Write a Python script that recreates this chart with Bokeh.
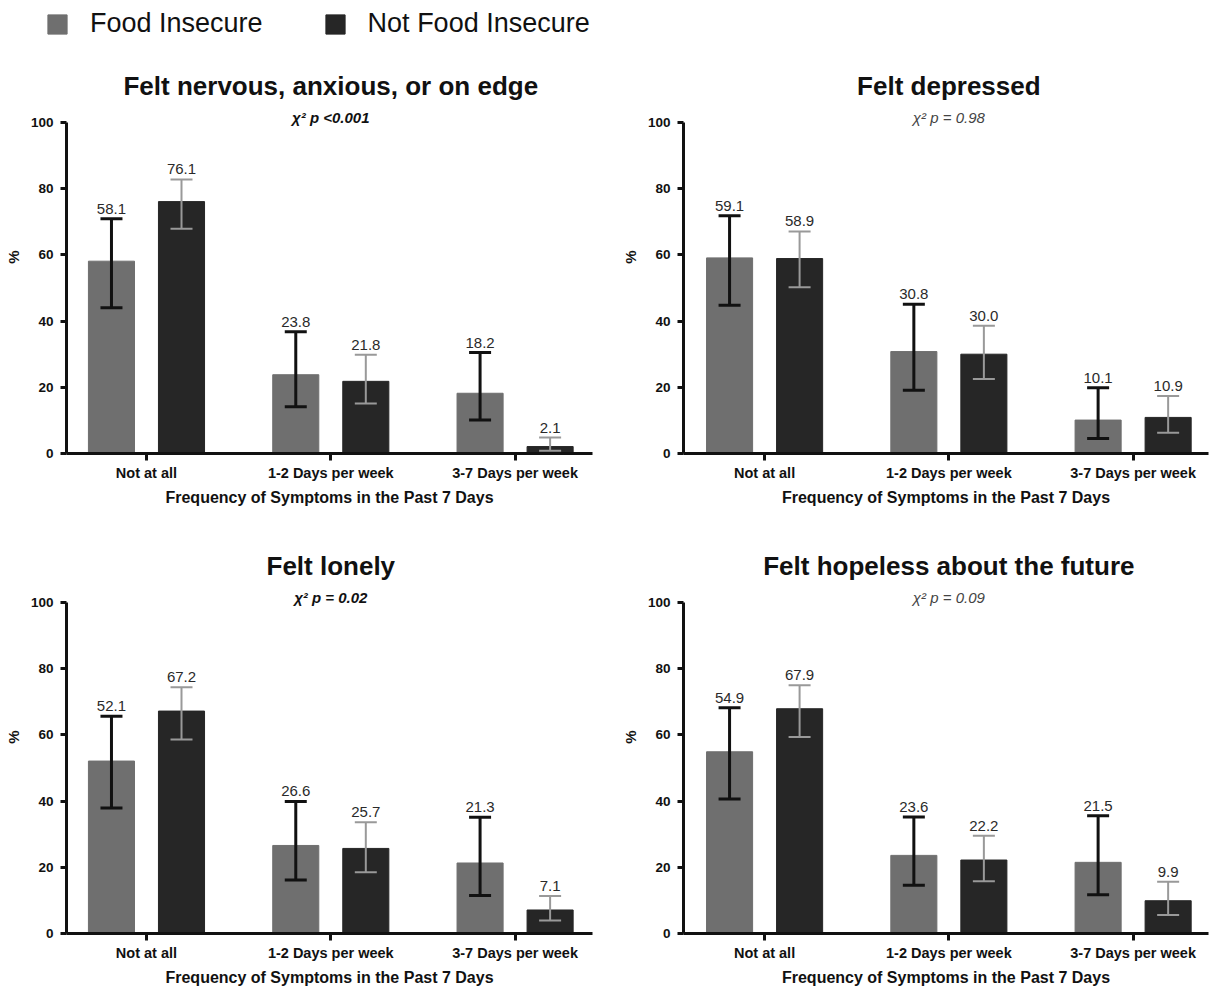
from bokeh.plotting import figure
from bokeh.models import (ColumnDataSource, Whisker, TeeHead, FixedTicker,
                          Range1d, Legend, LegendItem)
from bokeh.layouts import column, row
from bokeh.embed import file_html
from bokeh.resources import INLINE
from bokeh.core.properties import value

# ---------------- data ----------------
categories = ["Not at all", "1-2 Days per week", "3-7 Days per week"]
series_names = ["Food Insecure", "Not Food Insecure"]
titles = ["Felt nervous, anxious, or on edge", "Felt depressed",
          "Felt lonely", "Felt hopeless about the future"]
pvalues = ["\u03c7\u00b2 p <0.001", "\u03c7\u00b2 p = 0.98",
           "\u03c7\u00b2 p = 0.02", "\u03c7\u00b2 p = 0.09"]
significant = [True, False, True, False]

# Food insecure: value, lower CI, upper CI (per panel, per category)
fi_nervous = [58.1, 23.8, 18.2]
fi_nervous_lo = [44.0, 14.1, 10.1]
fi_nervous_hi = [70.9, 36.8, 30.5]
fi_depressed = [59.1, 30.8, 10.1]
fi_depressed_lo = [44.8, 19.1, 4.5]
fi_depressed_hi = [71.8, 45.1, 19.9]
fi_lonely = [52.1, 26.6, 21.3]
fi_lonely_lo = [37.9, 16.2, 11.5]
fi_lonely_hi = [65.6, 39.9, 35.1]
fi_hopeless = [54.9, 23.6, 21.5]
fi_hopeless_lo = [40.6, 14.6, 11.7]
fi_hopeless_hi = [68.2, 35.2, 35.6]

# Not food insecure
nfi_nervous = [76.1, 21.8, 2.1]
nfi_nervous_lo = [67.9, 15.1, 0.8]
nfi_nervous_hi = [82.8, 29.8, 4.8]
nfi_depressed = [58.9, 30.0, 10.9]
nfi_depressed_lo = [50.2, 22.5, 6.3]
nfi_depressed_hi = [67.1, 38.6, 17.4]
nfi_lonely = [67.2, 25.7, 7.1]
nfi_lonely_lo = [58.6, 18.5, 3.9]
nfi_lonely_hi = [74.4, 33.6, 11.3]
nfi_hopeless = [67.9, 22.2, 9.9]
nfi_hopeless_lo = [59.4, 15.8, 5.6]
nfi_hopeless_hi = [75.0, 29.5, 15.6]

y_ticks = [0, 20, 40, 60, 80, 100]
x_axis_title = "Frequency of Symptoms in the Past 7 Days"
y_axis_title = "%"

panels = [
    (fi_nervous, fi_nervous_lo, fi_nervous_hi, nfi_nervous, nfi_nervous_lo, nfi_nervous_hi),
    (fi_depressed, fi_depressed_lo, fi_depressed_hi, nfi_depressed, nfi_depressed_lo, nfi_depressed_hi),
    (fi_lonely, fi_lonely_lo, fi_lonely_hi, nfi_lonely, nfi_lonely_lo, nfi_lonely_hi),
    (fi_hopeless, fi_hopeless_lo, fi_hopeless_hi, nfi_hopeless, nfi_hopeless_lo, nfi_hopeless_hi),
]

# ---------------- style ----------------
FONT = "Liberation Sans"
FI_COLOR = "#6f6f6f"
NFI_COLOR = "#262626"
FI_ERR = "#111111"
NFI_ERR = "#999999"
AXIS_COLOR = "#111111"
BAR_W = 0.25
OFFSET = 0.19
Y_TOP = 118.73
TITLE_Y = 110.9
SUB_Y = 101.4


def make_panel(idx, width, height, left, right, top, bottom, x_start, x_end):
    fi, fi_lo, fi_hi, nfi, nfi_lo, nfi_hi = panels[idx]
    p = figure(width=width, height=height, output_backend="svg",
               toolbar_location=None, x_range=Range1d(x_start, x_end),
               y_range=Range1d(0, Y_TOP),
               min_border_left=left, min_border_right=right,
               min_border_top=top, min_border_bottom=bottom)
    p.outline_line_color = None
    p.grid.visible = False
    p.background_fill_color = "white"
    p.border_fill_color = "white"

    xs = list(range(len(categories)))
    src_fi = ColumnDataSource(dict(
        x=[x - OFFSET for x in xs], top=fi, lower=fi_lo, upper=fi_hi,
        label=[f"{v:.1f}" for v in fi]))
    src_nfi = ColumnDataSource(dict(
        x=[x + OFFSET for x in xs], top=nfi, lower=nfi_lo, upper=nfi_hi,
        label=[f"{v:.1f}" for v in nfi]))

    p.vbar(x="x", top="top", bottom=0, width=BAR_W, source=src_fi,
           fill_color=FI_COLOR, line_color=FI_COLOR)
    p.vbar(x="x", top="top", bottom=0, width=BAR_W, source=src_nfi,
           fill_color=NFI_COLOR, line_color=NFI_COLOR)

    for src, col, lw in ((src_fi, FI_ERR, 3), (src_nfi, NFI_ERR, 2)):
        w = Whisker(source=src, base="x", upper="upper", lower="lower",
                    line_color=col, line_width=lw, level="annotation",
                    upper_head=TeeHead(size=22, line_color=col, line_width=lw),
                    lower_head=TeeHead(size=22, line_color=col, line_width=lw))
        p.add_layout(w)
        p.text(x="x", y="upper", text="label", source=src,
               text_align="center", text_baseline="bottom", y_offset=-5,
               text_font=value(FONT), text_font_size="15px", text_color="#2a2a2a")

    # title and subtitle
    p.text(x=[1], y=[TITLE_Y], text=[titles[idx]], text_align="center",
           text_baseline="middle", text_font=value(FONT), text_font_size="26px",
           text_font_style="bold", text_color="#111111")
    p.text(x=[1], y=[SUB_Y], text=[pvalues[idx]], text_align="center",
           text_baseline="middle", text_font=value(FONT), text_font_size="15px",
           text_font_style="bold italic" if significant[idx] else "italic",
           text_color="#111111" if significant[idx] else "#444444")

    # axes
    xa = p.xaxis[0]
    xa.ticker = FixedTicker(ticks=xs, minor_ticks=[])
    xa.major_label_overrides = {i: c for i, c in enumerate(categories)}
    xa.axis_label = x_axis_title
    xa.axis_line_width = 3
    xa.axis_line_color = AXIS_COLOR
    xa.major_tick_line_width = 3
    xa.major_tick_line_color = AXIS_COLOR
    xa.major_tick_out = 7
    xa.major_tick_in = 0
    xa.minor_tick_line_color = None
    xa.major_label_text_font = FONT
    xa.major_label_text_font_size = "14.5px"
    xa.major_label_text_font_style = "bold"
    xa.major_label_text_color = "#111111"
    xa.major_label_standoff = 4
    xa.axis_label_text_font = FONT
    xa.axis_label_text_font_size = "16px"
    xa.axis_label_text_font_style = "bold"
    xa.axis_label_text_color = "#111111"
    xa.axis_label_standoff = 5

    ya = p.yaxis[0]
    ya.ticker = FixedTicker(ticks=y_ticks, minor_ticks=[])
    ya.bounds = (0, 100)
    ya.axis_label = y_axis_title
    ya.axis_line_width = 3
    ya.axis_line_color = AXIS_COLOR
    ya.major_tick_line_width = 3
    ya.major_tick_line_color = AXIS_COLOR
    ya.major_tick_out = 6
    ya.major_tick_in = 0
    ya.minor_tick_line_color = None
    ya.major_label_text_font = FONT
    ya.major_label_text_font_size = "13.5px"
    ya.major_label_text_font_style = "bold"
    ya.major_label_text_color = "#111111"
    ya.major_label_standoff = 7
    ya.axis_label_text_font = FONT
    ya.axis_label_text_font_size = "15px"
    ya.axis_label_text_font_style = "bold"
    ya.axis_label_text_color = "#111111"
    ya.axis_label_standoff = 6
    return p


# legend strip
lf = figure(width=1210, height=58, output_backend="svg", toolbar_location=None,
            x_range=Range1d(0, 1), y_range=Range1d(0, 1),
            min_border_left=45, min_border_right=0, min_border_top=8,
            min_border_bottom=0)
lf.axis.visible = False
lf.grid.visible = False
lf.outline_line_color = None
r1 = lf.vbar(x=[5], top=[1], width=0.1, fill_color=FI_COLOR, line_color=FI_COLOR)
r2 = lf.vbar(x=[5], top=[1], width=0.1, fill_color=NFI_COLOR, line_color=NFI_COLOR)
legend = Legend(items=[LegendItem(label=series_names[0], renderers=[r1]),
                       LegendItem(label=series_names[1], renderers=[r2])],
                orientation="horizontal", location="top_left",
                margin=0, padding=0, spacing=60, label_standoff=21,
                glyph_width=24, glyph_height=24,
                label_text_font=FONT, label_text_font_size="27px",
                label_text_color="#111111",
                background_fill_alpha=0, border_line_alpha=0)
lf.add_layout(legend, "center")

p1 = make_panel(0, 613, 480, 66, 21, 2, 85, -0.434, 2.42)
p2 = make_panel(1, 597, 480, 70, 2, 2, 85, -0.44, 2.409)
p3 = make_panel(2, 613, 450, 66, 21, 2, 55, -0.434, 2.42)
p4 = make_panel(3, 597, 450, 70, 2, 2, 55, -0.44, 2.409)

layout = column(lf, row(p1, p2), row(p3, p4))

open("out.html", "w").write(file_html(layout, INLINE))
